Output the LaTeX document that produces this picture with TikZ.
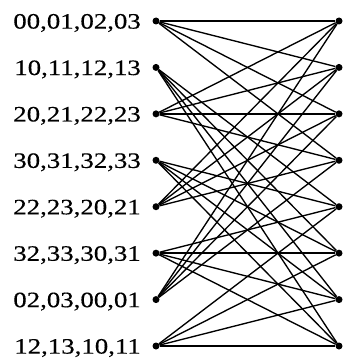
\documentclass[tikz,border=0pt]{standalone}
\usepackage{fontspec}
\setmainfont{Liberation Serif}[FakeBold=0.4]
\begin{document}
\begin{tikzpicture}[x=1pt,y=1pt,
  dot/.style={circle,fill=black,inner sep=0pt,minimum size=7pt},
  lbl/.style={anchor=base east,inner sep=0pt,font=\fontsize{22}{22}\selectfont},
  edge/.style={line width=1.35pt}]
\useasboundingbox (0,0) rectangle (343,-361);
\foreach \i/\t in {0/{00,01,02,03},1/{10,11,12,13},2/{20,21,22,23},3/{30,31,32,33},4/{22,23,20,21},5/{32,33,30,31},6/{02,03,00,01},7/{12,13,10,11}} {
  \node[dot] (L\i) at (156,{-21-46.43*\i}) {};
  \node[dot] (R\i) at (339,{-21-46.43*\i}) {};
  \node[lbl] (T\i) at (141,{-28.6-46.43*\i}) {\scalebox{1.22}[1]{\t}};
}
\foreach \l in {0,2,4,6} \foreach \r in {0,1,2,3} \draw[edge] (L\l) -- (R\r);
\foreach \l in {1,3,5,7} \foreach \r in {4,5,6,7} \draw[edge] (L\l) -- (R\r);
\end{tikzpicture}
\end{document}
